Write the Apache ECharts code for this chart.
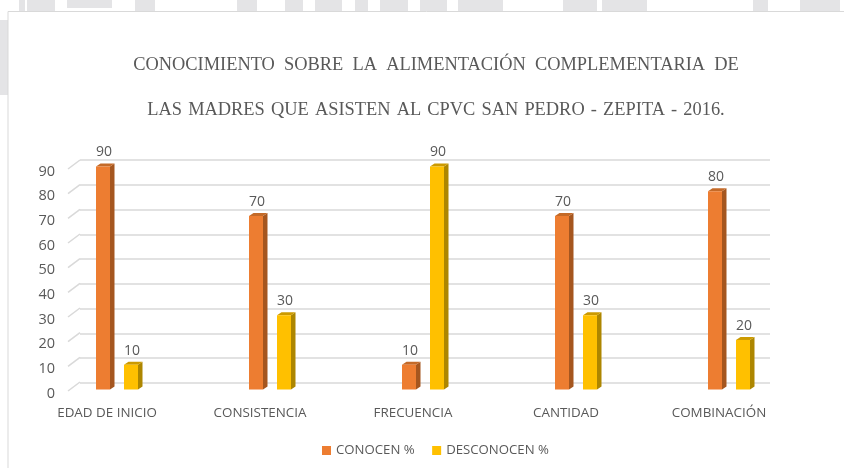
<!DOCTYPE html>
<html>
<head>
<meta charset="utf-8">
<style>html,body{margin:0;padding:0;background:#fff}#main{width:844px;height:468px}</style>
<script src="https://cdn.jsdelivr.net/npm/echarts@6/dist/echarts.min.js"></script>
</head>
<body>
<div id="main"></div>
<script>
const categories = ['EDAD DE INICIO', 'CONSISTENCIA', 'FRECUENCIA', 'CANTIDAD', 'COMBINACIÓN']
const conocen = [90, 70, 10, 70, 80]
const desconocen = [10, 30, 90, 30, 20]
const valueTicks = [0, 10, 20, 30, 40, 50, 60, 70, 80, 90]
const titleLines = [
  'CONOCIMIENTO  SOBRE  LA  ALIMENTACIÓN  COMPLEMENTARIA  DE',
  'LAS \u200AMADRES \u200AQUE \u200AASISTEN \u200AAL \u200ACPVC \u200ASAN \u200APEDRO \u200A- \u200AZEPITA \u200A- \u200A2016.'
]

const font = '"Open Sans", sans-serif'
const textColor = '#595959'
const gridColor = '#d9d9d9'
const stampColor = '#e4e4e6'

// bits of the page watermark that stick out above and left of the chart frame
const stamps = [
  [19, 6, 11], [27, 28, 11], [67, 45, 8], [135, 20, 11], [237, 20, 11], [285, 18, 11],
  [315, 27, 11], [355, 13, 11], [380, 28, 11], [420, 27, 11], [458, 45, 11], [563, 34, 11],
  [602, 45, 11], [753, 15, 11], [800, 40, 11]
]

// 3D column: front face + side + top, drawn through the bar-plane axes
function column(front, side, top, shift) {
  return (params, api) => {
    const cat = api.value(0)
    const val = api.value(1)
    const p = api.coord([cat, val])
    const base = api.coord([cat, 0])
    const w = 14
    const x = p[0] + shift - w / 2
    const dx = 4.5
    const dy = 3
    return {
      type: 'group',
      children: [
        { type: 'polygon', shape: { points: [[x + w, p[1]], [x + w + dx, p[1] - dy], [x + w + dx, base[1] - dy], [x + w, base[1]]] }, style: { fill: side } },
        { type: 'polygon', shape: { points: [[x, p[1]], [x + dx, p[1] - dy], [x + w + dx, p[1] - dy], [x + w, p[1]]] }, style: { fill: top } },
        { type: 'rect', shape: { x: x, y: p[1], width: w, height: base[1] - p[1] }, style: { fill: front } },
        { type: 'text', x: x + w / 2 + 1, y: p[1] - 14, style: { text: String(val), fill: textColor, font: '14px ' + font, align: 'center', verticalAlign: 'middle' } }
      ]
    }
  }
}

// short depth strokes joining the front edge to the back wall
function depthTick(params, api) {
  const p = api.coord([0, api.value(0)])
  return {
    type: 'line',
    shape: { x1: 68, y1: p[1] - 2.5, x2: 80, y2: p[1] - 11.5 },
    style: { stroke: gridColor, lineWidth: 1.5 }
  }
}

const chart = echarts.init(document.getElementById('main'))
chart.setOption({
  animation: false,
  backgroundColor: '#fff',
  graphic: [
    { type: 'group', silent: true, z: -10, children: [
      ...stamps.map(s => ({ type: 'rect', shape: { x: s[0], y: 0, width: s[1], height: s[2] }, style: { fill: stampColor } })),
      { type: 'rect', shape: { x: 0, y: 20, width: 8, height: 75 }, style: { fill: stampColor } },
      { type: 'rect', shape: { x: 8, y: 11.5, width: 840, height: 460 }, style: { fill: '#fff', stroke: '#d9d9d9', lineWidth: 1 } }
    ] }
  ],
  title: titleLines.map((t, i) => ({
    text: t,
    left: 431,
    top: 51 + i * 45,
    textAlign: 'center',
    textStyle: { fontFamily: '"Liberation Serif"', fontSize: 18.4, fontWeight: 'normal', color: textColor }
  })),
  legend: {
    top: 439,
    left: 317,
    itemWidth: 9,
    itemHeight: 9,
    itemGap: 17.5,
    textStyle: { fontFamily: font, fontSize: 13.2, color: textColor },
    data: [
      { name: 'CONOCEN %', icon: 'rect', itemStyle: { color: '#ed7d31' } },
      { name: 'DESCONOCEN %', icon: 'rect', itemStyle: { color: '#ffc000' } }
    ]
  },
  grid: [
    { left: 30.5, width: 765, top: 171.5, height: 222 }, // labels plane
    { left: 40.5, width: 765, top: 166.5, height: 223 }, // bars plane
    { left: 80, width: 690, top: 160, height: 223 } // back wall
  ],
  xAxis: [
    { gridIndex: 0, type: 'category', data: categories, axisLine: { show: false }, axisTick: { show: false },
      axisLabel: { color: textColor, fontFamily: font, fontSize: 13.4, margin: 13 } },
    { gridIndex: 1, type: 'category', data: categories, show: false },
    { gridIndex: 2, type: 'value', show: false, min: 0, max: 1 }
  ],
  yAxis: [
    { gridIndex: 0, type: 'value', min: 0, max: 90, interval: 10, offset: -37.5, axisLine: { show: false }, axisTick: { show: false }, splitLine: { show: false },
      axisLabel: { color: textColor, fontFamily: font, fontSize: 14.5, margin: 13 } },
    { gridIndex: 1, type: 'value', min: 0, max: 90, interval: 10, show: false, splitLine: { show: false } },
    { gridIndex: 2, type: 'value', min: 0, max: 90, interval: 10, axisLine: { show: false }, axisTick: { show: false }, axisLabel: { show: false },
      splitLine: { show: true, lineStyle: { color: gridColor, width: 1.5 } } }
  ],
  series: [
    { type: 'custom', xAxisIndex: 0, yAxisIndex: 0, silent: true, renderItem: depthTick, data: valueTicks, encode: { y: 0 } },
    { name: 'CONOCEN %', type: 'custom', xAxisIndex: 1, yAxisIndex: 1, itemStyle: { color: '#ed7d31' },
      renderItem: column('#ed7d31', '#a5561f', '#c46a28', -14), data: categories.map((c, i) => [i, conocen[i]]) },
    { name: 'DESCONOCEN %', type: 'custom', xAxisIndex: 1, yAxisIndex: 1, itemStyle: { color: '#ffc000' },
      renderItem: column('#ffc000', '#ad8600', '#cc9a00', 14), data: categories.map((c, i) => [i, desconocen[i]]) }
  ]
})
</script>
</body>
</html>
